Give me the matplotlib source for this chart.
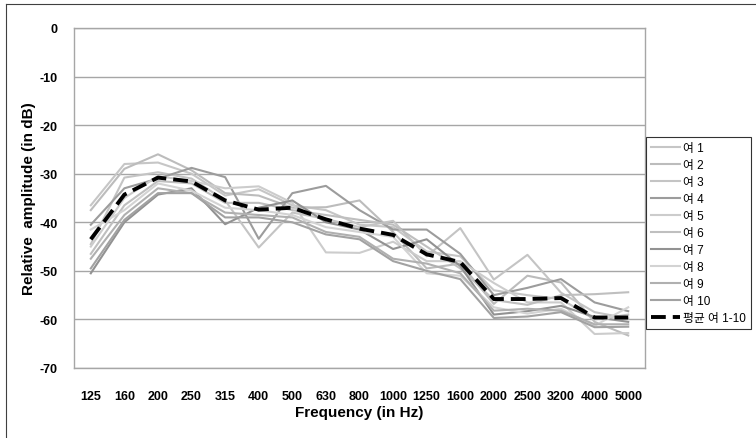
import matplotlib
matplotlib.use("Agg")
import matplotlib.pyplot as plt
from matplotlib.lines import Line2D

plt.rcParams['font.family'] = ['Liberation Sans', 'Noto Sans CJK KR', 'DejaVu Sans']
plt.rcParams['axes.unicode_minus'] = False

# frequency bands (x categories)
freqs = ["125", "160", "200", "250", "315", "400", "500", "630", "800",
         "1000", "1250", "1600", "2000", "2500", "3200", "4000", "5000"]

# relative amplitude (dB) per speaker
f1 = [-36.5, -28, -27.7, -30, -34.5, -33.2, -36.5, -37.5, -40.5, -41, -46, -47, -54, -55, -55.8, -60, -59]
f2 = [-37.5, -29, -26, -29.3, -34, -34.5, -37, -36.9, -35.5, -42, -49.5, -48.5, -56.8, -51, -52.4, -60.5, -63.3]
f3 = [-44.5, -30.8, -29.7, -31, -35.5, -45.2, -38, -39.3, -41, -39.7, -47, -41.2, -51.8, -46.7, -54.5, -58.5, -59.8]
f4 = [-40.5, -33, -31, -28.8, -30.7, -43.4, -34, -32.5, -37.5, -41.5, -41.5, -46.5, -55, -53.5, -51.7, -56.5, -58.3]
f5 = [-45, -35, -30.5, -31.5, -33, -32.6, -36, -46.2, -46.3, -44, -48, -48, -52.5, -56.5, -56.5, -63, -62.8]
f6 = [-46.5, -36.5, -31.5, -32, -36, -36, -37.5, -38.5, -39.5, -40.5, -45, -49.5, -56, -57, -55, -54.8, -54.4]
f7 = [-50.5, -40, -34.3, -33, -40.4, -37, -35.5, -40, -41.5, -45.5, -43.5, -49, -59, -58.3, -57.2, -59.5, -60.5]
f8 = [-41.5, -37.5, -32, -33.5, -37, -37.5, -38.5, -41, -42, -43, -50.5, -51, -57.5, -58.8, -57.8, -61.3, -57.5]
f9 = [-47.5, -38.5, -33, -34, -38, -38.5, -39, -42, -43, -47.5, -48.5, -50.5, -58.2, -57.8, -58.2, -61, -61]
f10 = [-49.5, -39.5, -34, -34, -39, -39, -40, -42.5, -43.5, -48, -50, -51.7, -59.7, -59.4, -58.5, -61.6, -61.5]

# average line (dashed)
avg = [-43.5, -34.3, -30.8, -31.6, -35.5, -37.4, -37, -39.4, -41.3, -42.6, -46.6, -48.2, -55.8, -55.8, -55.6, -59.6, -59.6]

names = ["여 1", "여 2", "여 3", "여 4", "여 5", "여 6", "여 7", "여 8", "여 9", "여 10"]
series = [f1, f2, f3, f4, f5, f6, f7, f8, f9, f10]
colors = ["#c6c6c6", "#bcbcbc", "#c4c4c4", "#9c9c9c", "#cccccc",
          "#bfbfbf", "#929292", "#d3d3d3", "#b0b0b0", "#a2a2a2"]

fig = plt.figure(figsize=(7.56, 4.39), dpi=100)
ax = fig.add_axes([74/756, 1-369/439, (645-74)/756, (369-29)/439])

x = list(range(len(freqs)))
for vals, name, c in zip(series, names, colors):
    ax.plot(x, vals, color=c, lw=1.5, label=name)
ax.plot(x, avg, color="black", lw=2.8, ls=(0, (3.8, 1.8)), label="평균 여 1-10")

ax.set_xlim(-0.5, len(freqs) - 0.5)
ax.set_ylim(-70, 0)
ax.set_yticks(range(-70, 1, 10))
ax.set_xticks(x)
ax.set_xticklabels(freqs)
ax.tick_params(length=0, labelsize=9)
ax.tick_params(axis='y', pad=12)
ax.tick_params(axis='x', pad=16)
for lab in ax.get_xticklabels() + ax.get_yticklabels():
    lab.set_fontweight("bold")
ax.yaxis.grid(True, color="#a6a6a6", lw=1)
ax.set_axisbelow(True)
for s in ax.spines.values():
    s.set_color("#a6a6a6")
    s.set_linewidth(1)

ax.set_xlabel("Frequency (in Hz)", fontsize=11, fontweight="bold", labelpad=2)
ax.set_ylabel("Relative  amplitude (in dB)", fontsize=11, fontweight="bold", labelpad=2)

leg = fig.legend(loc="upper left", bbox_to_anchor=(646/756, 1-138/439),
                 fontsize=8.5, frameon=True, fancybox=False, handlelength=2.4,
                 handletextpad=0.3, labelspacing=0.42, borderpad=0.45, borderaxespad=0)
leg.get_frame().set_edgecolor("black")
leg.get_frame().set_linewidth(0.8)

# outer chart border
fig.add_artist(Line2D([6/756, 6/756], [0, 1-5/439], transform=fig.transFigure, color="#404040", lw=0.8))
fig.add_artist(Line2D([6/756, 1], [1-5/439, 1-5/439], transform=fig.transFigure, color="#404040", lw=0.8))

fig.savefig("out.png", dpi=100)
